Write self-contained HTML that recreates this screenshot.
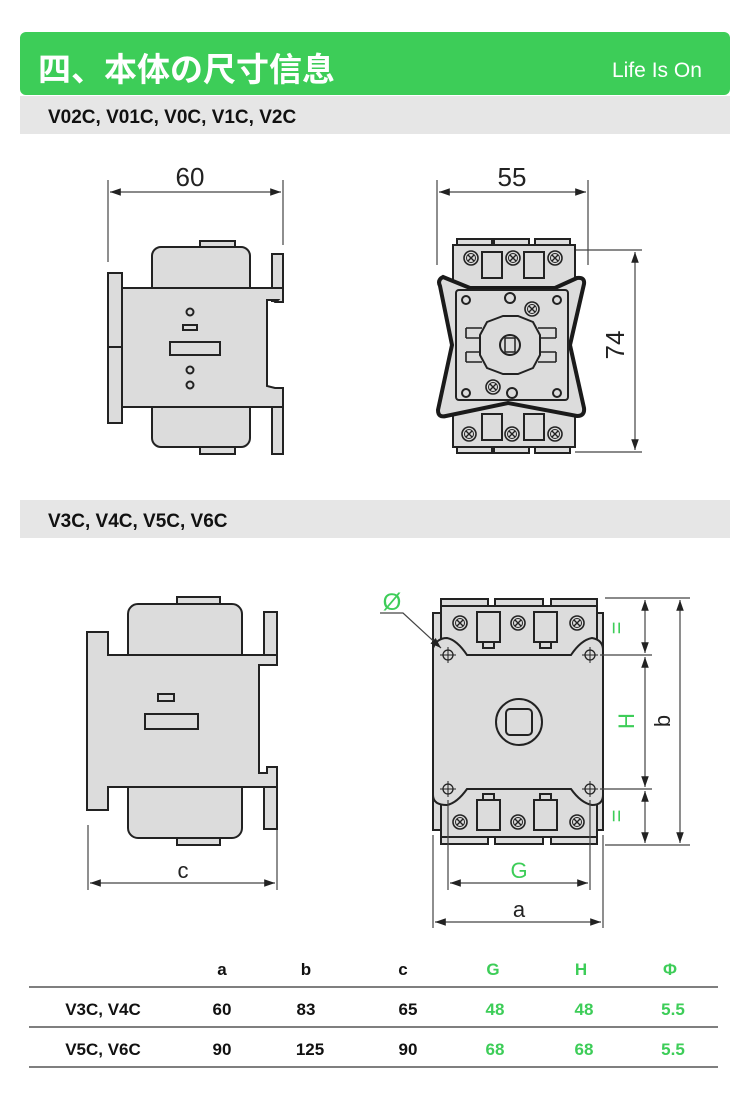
<!DOCTYPE html>
<html><head><meta charset="utf-8"><style>
html,body{margin:0;padding:0;background:#fff;}
svg{display:block;}
text{font-family:"Liberation Sans","Noto Sans CJK SC",sans-serif;}
</style></head><body>
<svg width="750" height="1110" viewBox="0 0 750 1110" xmlns="http://www.w3.org/2000/svg">
<defs>
<marker id="ar" viewBox="0 0 10 10" refX="10" refY="5" markerWidth="9" markerHeight="9" orient="auto-start-reverse"><path d="M0,1.5 L10,5 L0,8.5 Z" fill="#222"/></marker>
<g id="screw"><circle r="7" fill="#ddd" stroke="#222" stroke-width="1.6"/><circle r="4.5" fill="none" stroke="#222" stroke-width="1"/><path d="M-3,-3 L3,3 M-3,3 L3,-3" stroke="#222" stroke-width="1.4"/></g>
<g id="hole"><circle r="5" fill="none" stroke="#222" stroke-width="1.3"/><path d="M-8,0 H8 M0,-8 V8" stroke="#222" stroke-width="1"/></g>
</defs>
<!-- header -->
<rect x="20" y="32" width="710" height="63" rx="6" fill="#3dcd58"/>
<text x="38" y="81" font-size="33" font-weight="bold" fill="#fff">四、本体の尺寸信息</text>
<text x="612" y="77" font-size="21" fill="#fff">Life Is <tspan>On</tspan></text>
<rect x="20" y="96" width="710" height="38" fill="#e6e6e6"/>
<text x="48" y="123" font-size="19" font-weight="bold" fill="#111">V02C, V01C, V0C, V1C, V2C</text>
<rect x="20" y="500" width="710" height="38" fill="#e6e6e6"/>
<text x="48" y="527" font-size="19" font-weight="bold" fill="#111">V3C, V4C, V5C, V6C</text>

<g stroke="#222" stroke-width="2" fill="#dcdcdc">
<!-- Diagram 1 -->
<rect x="200" y="241" width="35" height="8"/>
<rect x="200" y="446" width="35" height="8"/>
<rect x="152" y="247" width="98" height="60" rx="9"/>
<rect x="152" y="388" width="98" height="59" rx="9"/>
<rect x="108" y="273" width="14" height="150"/>
<line x1="108" y1="347" x2="122" y2="347"/>
<rect x="272" y="254" width="11" height="47"/>
<rect x="272" y="388" width="11" height="66"/>
<path d="M122,288 H283 V302 H276 L278,300 H267 V386 L275,388 H283 V407 H122 Z"/>
<circle cx="190" cy="312" r="3.5" fill="none"/>
<rect x="183" y="325" width="14" height="5"/>
<rect x="170" y="342" width="50" height="13"/>
<circle cx="190" cy="370" r="3.5" fill="none"/>
<circle cx="190" cy="385" r="3.5" fill="none"/>
</g>
<g stroke="#444" stroke-width="1.2">
<line x1="108" y1="180" x2="108" y2="262"/><line x1="283" y1="180" x2="283" y2="245"/>
<line x1="110" y1="192" x2="281" y2="192" marker-start="url(#ar)" marker-end="url(#ar)"/>
<line x1="437" y1="180" x2="437" y2="265"/><line x1="588" y1="180" x2="588" y2="265"/>
<line x1="439" y1="192" x2="586" y2="192" marker-start="url(#ar)" marker-end="url(#ar)"/>
<line x1="575" y1="250" x2="642" y2="250"/><line x1="575" y1="452" x2="642" y2="452"/>
<line x1="635" y1="252" x2="635" y2="450" marker-start="url(#ar)" marker-end="url(#ar)"/>
</g>
<text x="190" y="186" font-size="26" text-anchor="middle" fill="#222">60</text>
<text x="512" y="186" font-size="26" text-anchor="middle" fill="#222">55</text>
<text transform="translate(624,345) rotate(-90)" font-size="26" text-anchor="middle" fill="#222">74</text>

<!-- Diagram 2 -->
<g stroke="#222" stroke-width="2" fill="#dcdcdc">
<rect x="457" y="239" width="35" height="8"/><rect x="494" y="239" width="35" height="8"/><rect x="535" y="239" width="35" height="8"/>
<rect x="453" y="245" width="122" height="45"/>
<rect x="457" y="446" width="35" height="7"/><rect x="494" y="446" width="35" height="7"/><rect x="535" y="446" width="35" height="7"/>
<rect x="453" y="400" width="122" height="47"/>
<rect x="482" y="252" width="20" height="26"/><rect x="524" y="252" width="20" height="26"/>
<rect x="482" y="414" width="20" height="26"/><rect x="524" y="414" width="20" height="26"/>
<path d="M443,277 Q437,280 440,286 L452,345 L438,410 Q438,418 446,416 L508,403 L577,416 Q585,416 584,408 L570,345 L584,284 Q585,277 577,278 L555,288 H470 Z" fill="#dcdcdc" stroke="#1a1a1a" stroke-width="4"/>
<rect x="456" y="290" width="112" height="110" rx="3"/>
<path d="M487,322 L503,316 H518 L533,322 L540,335 V355 L533,368 L518,374 H503 L487,368 L480,355 V335 Z"/>
<path d="M466,328 H482 M466,338 H480 M466,352 H480 M466,362 H482 M466,328 V338 M466,352 V362 M556,328 H538 M556,338 H540 M556,352 H540 M556,362 H538 M556,328 V338 M556,352 V362" fill="none" stroke-width="1.6"/>
<circle cx="510" cy="345" r="10"/>
<rect x="505" y="338" width="10" height="14" fill="none" stroke-width="1.5"/>
<circle cx="466" cy="300" r="4" fill="none"/><circle cx="510" cy="298" r="5" fill="none"/><circle cx="557" cy="300" r="4" fill="none"/>
<circle cx="466" cy="393" r="4" fill="none"/><circle cx="512" cy="393" r="5" fill="none"/><circle cx="557" cy="393" r="4" fill="none"/>
</g>
<use href="#screw" x="471" y="258"/><use href="#screw" x="513" y="258"/><use href="#screw" x="555" y="258"/>
<use href="#screw" x="532" y="309"/><use href="#screw" x="493" y="387"/>
<use href="#screw" x="469" y="434"/><use href="#screw" x="512" y="434"/><use href="#screw" x="555" y="434"/>

<!-- Diagram 3 -->
<g stroke="#222" stroke-width="2" fill="#dcdcdc">
<rect x="177" y="597" width="43" height="8"/>
<rect x="177" y="837" width="43" height="8"/>
<rect x="128" y="604" width="114" height="60" rx="10"/>
<rect x="128" y="778" width="114" height="60" rx="10"/>
<rect x="264" y="612" width="13" height="45"/>
<rect x="264" y="787" width="13" height="42"/>
<path d="M87,632 H108 V655 H277 V665 H259 V773 H267 V767 H277 V787 H108 V810 H87 Z"/>
<rect x="158" y="694" width="16" height="7"/>
<rect x="145" y="714" width="53" height="15"/>
</g>
<g stroke="#444" stroke-width="1.2">
<line x1="88" y1="825" x2="88" y2="890"/><line x1="277" y1="830" x2="277" y2="890"/>
<line x1="90" y1="883" x2="275" y2="883" marker-start="url(#ar)" marker-end="url(#ar)"/>
</g>
<text x="183" y="878" font-size="22" text-anchor="middle" fill="#222">c</text>

<!-- Diagram 4 -->
<g stroke="#222" stroke-width="2" fill="#dcdcdc">
<rect x="441" y="599" width="47" height="8"/><rect x="495" y="599" width="48" height="8"/><rect x="551" y="599" width="46" height="8"/>
<rect x="441" y="836" width="47" height="8"/><rect x="495" y="836" width="48" height="8"/><rect x="551" y="836" width="46" height="8"/>
<rect x="433" y="613" width="170" height="217"/>
<rect x="441" y="606" width="156" height="50"/>
<rect x="441" y="787" width="156" height="50"/>
<path d="M433,648 Q437,638 447,638 Q457,640 467,655 H571 Q581,640 592,638 Q603,640 603,650 V795 Q603,805 592,805 Q581,803 571,789 H467 Q457,803 447,805 Q433,805 433,795 Z"/>
<rect x="477" y="612" width="23" height="30"/><rect x="534" y="612" width="23" height="30"/>
<path d="M483,642 V648 H494 V642" fill="none"/><path d="M540,642 V648 H551 V642" fill="none"/>
<rect x="477" y="800" width="23" height="30"/><rect x="534" y="800" width="23" height="30"/>
<path d="M483,800 V794 H494 V800" fill="none"/><path d="M540,800 V794 H551 V800" fill="none"/>
<circle cx="519" cy="722" r="23"/>
<rect x="506" y="709" width="26" height="26" rx="4"/>
</g>
<use href="#screw" x="460" y="623"/><use href="#screw" x="518" y="623"/><use href="#screw" x="577" y="623"/>
<use href="#screw" x="460" y="822"/><use href="#screw" x="518" y="822"/><use href="#screw" x="577" y="822"/>
<use href="#hole" x="448" y="655"/><use href="#hole" x="590" y="655"/>
<use href="#hole" x="448" y="789"/><use href="#hole" x="590" y="789"/>
<text x="392" y="610" font-size="24" text-anchor="middle" fill="#3dcd58">Ø</text>
<g stroke="#444" stroke-width="1.2" fill="none">
<path d="M380,613 H403 L441,648" marker-end="url(#ar)"/>
<line x1="605" y1="598" x2="690" y2="598"/>
<line x1="600" y1="655" x2="652" y2="655"/>
<line x1="600" y1="789" x2="652" y2="789"/>
<line x1="605" y1="845" x2="690" y2="845"/>
<line x1="645" y1="600" x2="645" y2="653" marker-start="url(#ar)" marker-end="url(#ar)"/>
<line x1="645" y1="657" x2="645" y2="787" marker-start="url(#ar)" marker-end="url(#ar)"/>
<line x1="645" y1="791" x2="645" y2="843" marker-start="url(#ar)" marker-end="url(#ar)"/>
<line x1="680" y1="600" x2="680" y2="843" marker-start="url(#ar)" marker-end="url(#ar)"/>
<line x1="448" y1="800" x2="448" y2="890"/><line x1="590" y1="800" x2="590" y2="890"/>
<line x1="450" y1="883" x2="588" y2="883" marker-start="url(#ar)" marker-end="url(#ar)"/>
<line x1="433" y1="835" x2="433" y2="928"/><line x1="603" y1="835" x2="603" y2="928"/>
<line x1="435" y1="922" x2="601" y2="922" marker-start="url(#ar)" marker-end="url(#ar)"/>
</g>
<text transform="translate(624,628) rotate(-90)" font-size="22" text-anchor="middle" fill="#3dcd58">=</text>
<text transform="translate(624,816) rotate(-90)" font-size="22" text-anchor="middle" fill="#3dcd58">=</text>
<text transform="translate(634,721) rotate(-90)" font-size="22" text-anchor="middle" fill="#3dcd58">H</text>
<text transform="translate(670,721) rotate(-90)" font-size="22" text-anchor="middle" fill="#222">b</text>
<text x="519" y="878" font-size="22" text-anchor="middle" fill="#3dcd58">G</text>
<text x="519" y="917" font-size="22" text-anchor="middle" fill="#222">a</text>

<!-- table -->
<g font-size="17" font-weight="bold" text-anchor="middle" fill="#111">
<text x="222" y="975">a</text><text x="306" y="975">b</text><text x="403" y="975">c</text>
<text x="493" y="975" fill="#3dcd58">G</text><text x="581" y="975" fill="#3dcd58">H</text><text x="670" y="975" fill="#3dcd58">Φ</text>
<text x="103" y="1015">V3C, V4C</text><text x="222" y="1015">60</text><text x="306" y="1015">83</text><text x="408" y="1015">65</text>
<text x="495" y="1015" fill="#3dcd58">48</text><text x="584" y="1015" fill="#3dcd58">48</text><text x="673" y="1015" fill="#3dcd58">5.5</text>
<text x="103" y="1055">V5C, V6C</text><text x="222" y="1055">90</text><text x="310" y="1055">125</text><text x="408" y="1055">90</text>
<text x="495" y="1055" fill="#3dcd58">68</text><text x="584" y="1055" fill="#3dcd58">68</text><text x="673" y="1055" fill="#3dcd58">5.5</text>
</g>
<g stroke="#333" stroke-width="1.2">
<line x1="29" y1="987" x2="718" y2="987"/>
<line x1="29" y1="1027" x2="718" y2="1027"/>
<line x1="29" y1="1067" x2="718" y2="1067"/>
</g>
</svg>
</body></html>
